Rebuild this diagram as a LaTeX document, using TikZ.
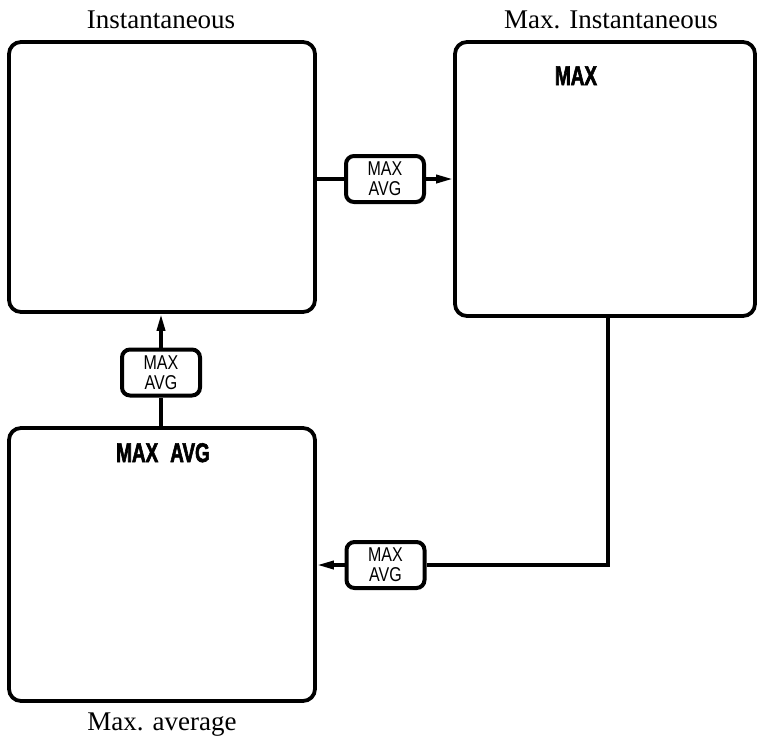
\documentclass[tikz,border=0pt]{standalone}
\usepackage{fontspec}
\setmainfont{Liberation Serif}
\newfontfamily\btnfont{Liberation Sans}[FakeStretch=0.8]
\newfontfamily\heavyfont{Liberation Sans}[FakeStretch=0.7,BoldFeatures={FakeBold=2.2}]
\usetikzlibrary{arrows.meta}
\begin{document}
\begin{tikzpicture}[x=1pt,y=-1pt,
  panel/.style={draw, line width=3.8pt, rounded corners=12pt, inner sep=0pt},
  btn/.style={draw, fill=white, line width=4pt, rounded corners=8pt,
    minimum width=78pt, minimum height=46pt, inner sep=0pt, align=center,
    font=\btnfont\fontsize{20}{20}\selectfont},
  wire/.style={line width=3.5pt},
  tip/.style={-{Triangle[length=17pt,width=8pt]}},
  caption/.style={anchor=base, font=\fontsize{27}{30}\selectfont},
  heavy/.style={anchor=base, font=\heavyfont\bfseries\fontsize{27}{30}\selectfont}]
\useasboundingbox (0,0) rectangle (757,739);
% panels
\node[panel, minimum width=306pt, minimum height=270pt] (box1) at (162,177) {};
\node[panel, minimum width=300pt, minimum height=274pt] (box2) at (605,179) {};
\node[panel, minimum width=306pt, minimum height=273pt] (box3) at (162,564.5) {};
% captions
\node[caption] (cap1) at (161,28) {Instantaneous};
\node[caption] (cap2) at (611,28) {Max. Instantaneous};
\node[caption] (cap3) at (162,730) {Max. average};
% panel texts
\node[heavy] (t2) at (576,85) {MAX};
\node[heavy] (t3) at (163,462) {MAX\hskip 12pt AVG};
% buttons
\node[btn] (b1) at (385,179) {MAX\\AVG};
\node[btn] (b2) at (161,372.5) {MAX\\AVG};
\node[btn] (b3) at (385.5,565) {MAX\\AVG};
\coordinate (c3) at (608,565);
% connectors
\draw[wire] (box1.east |- b1) -- (b1.west);
\draw[wire, tip] (b1.east) -- (box2.west |- b1);
\draw[wire] (box3.north -| b2) -- (b2.south);
\draw[wire, tip] (b2.north) -- (box1.south -| b2);
\draw[wire] (box2.south -| c3) -- (c3) -- (b3.east);
\draw[wire, tip] (b3.west) -- (box3.east |- b3);
\end{tikzpicture}
\end{document}
